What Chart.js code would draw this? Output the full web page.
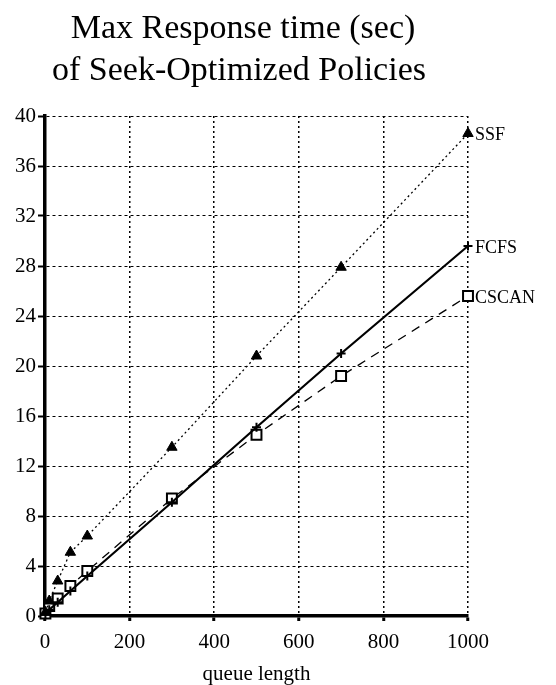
<!DOCTYPE html>
<html><head><meta charset="utf-8">
<script src="https://cdn.jsdelivr.net/npm/chart.js@4.4.1/dist/chart.umd.min.js"></script>
<style>html,body{margin:0;padding:0;background:#fff;overflow:hidden}</style>
</head><body>
<canvas id="c" width="556" height="685"></canvas>
<script>
// ---- data ----
const titleLines = ["Max Response time (sec)", "of Seek-Optimized Policies"];
const xAxisLabel = "queue length";
const queueLengths = [1, 10, 30, 60, 100, 300, 500, 700, 1000];
const ssfValues   = [0.3, 1.2, 2.8, 5.1, 6.4, 13.5, 20.8, 27.9, 38.6];
const fcfsValues  = [0.1, 0.5, 1.1, 2.0, 3.2, 9.1, 15.1, 21.0, 29.6];
const cscanValues = [0.2, 0.8, 1.4, 2.4, 3.6, 9.4, 14.5, 19.2, 25.6];
const seriesNames = ["SSF", "FCFS", "CSCAN"];
const xTickValues = [0, 200, 400, 600, 800, 1000];
const yTickValues = [0, 4, 8, 12, 16, 20, 24, 28, 32, 36, 40];

const SERIF = "'Liberation Serif', 'Times New Roman', serif";
const toPts = vals => queueLengths.map((q, i) => ({x: q, y: vals[i]}));

const titlePlugin = {
  id: 'titleDraw',
  afterDraw(chart) {
    const ctx = chart.ctx;
    ctx.save();
    ctx.fillStyle = '#000';
    ctx.font = '34px ' + SERIF;
    ctx.textAlign = 'center';
    ctx.textBaseline = 'alphabetic';
    ctx.fillText(titleLines[0], 243, 38);
    ctx.fillText(titleLines[1], 239, 80);
    ctx.restore();
  }
};

const endLabels = {
  id: 'endLabels',
  afterDatasetsDraw(chart) {
    const ctx = chart.ctx;
    ctx.save();
    ctx.fillStyle = '#000';
    ctx.font = '18px ' + SERIF;
    ctx.textAlign = 'left';
    ctx.textBaseline = 'middle';
    chart.data.datasets.forEach((ds, i) => {
      const meta = chart.getDatasetMeta(i);
      const pt = meta.data[meta.data.length - 1];
      ctx.fillText(ds.label, pt.x + 7, pt.y + 2);
    });
    ctx.restore();
  }
};

new Chart(document.getElementById('c'), {
  type: 'line',
  data: {
    datasets: [
      {
        label: seriesNames[0], data: toPts(ssfValues),
        borderColor: '#000', borderWidth: 1.3, borderDash: [2, 3],
        pointStyle: 'triangle', pointRadius: 6, pointBackgroundColor: '#000',
        pointBorderColor: '#000', pointBorderWidth: 1, tension: 0, clip: false
      },
      {
        label: seriesNames[1], data: toPts(fcfsValues),
        borderColor: '#000', borderWidth: 2.2,
        pointStyle: 'cross', pointRadius: 4.5, pointBorderColor: '#000',
        pointBorderWidth: 2, tension: 0, clip: false
      },
      {
        label: seriesNames[2], data: toPts(cscanValues),
        borderColor: '#000', borderWidth: 1.3, borderDash: [9, 7],
        pointStyle: 'rect', pointRadius: 7, pointBackgroundColor: '#fff',
        pointBorderColor: '#000', pointBorderWidth: 2, tension: 0, clip: false
      }
    ]
  },
  options: {
    responsive: false,
    animation: false,
    devicePixelRatio: 1,
    layout: { padding: { top: 116, right: 88, left: 0, bottom: 0 } },
    plugins: { legend: { display: false }, tooltip: { enabled: false }, title: { display: false } },
    scales: {
      x: {
        type: 'linear', min: 0, max: 1000,
        afterBuildTicks: s => { s.ticks = xTickValues.map(v => ({value: v})); },
        afterFit: s => { s.height = 69; },
        ticks: { color: '#000', font: { family: SERIF, size: 21 }, padding: 9, maxRotation: 0, callback: v => String(v) },
        grid: { color: '#000', lineWidth: 1.5, drawTicks: true, tickLength: 5, tickWidth: 3, tickColor: '#000', tickBorderDash: [] },
        border: { display: true, color: '#000', width: 3.5, dash: [2, 3] },
        title: { display: true, text: xAxisLabel, color: '#000', font: { family: SERIF, size: 21, lineHeight: 1 }, padding: { top: 0, bottom: 0 } }
      },
      y: {
        type: 'linear', min: 0, max: 40,
        afterBuildTicks: s => { s.ticks = yTickValues.map(v => ({value: v})); },
        afterFit: s => { s.width = 45; },
        ticks: { color: '#000', font: { family: SERIF, size: 21 }, padding: 2, callback: v => String(v) },
        grid: { color: '#000', lineWidth: 1, drawTicks: true, tickLength: 7, tickWidth: 2, tickColor: '#000', tickBorderDash: [] },
        border: { display: true, color: '#000', width: 3.5, dash: [3, 3] }
      }
    }
  },
  plugins: [titlePlugin, endLabels]
});
</script>
</body></html>
